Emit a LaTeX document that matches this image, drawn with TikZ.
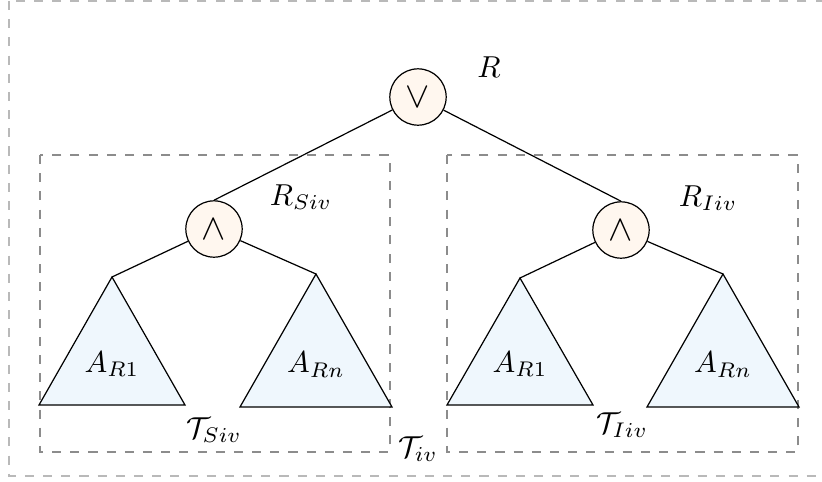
\documentclass[tikz,border=0pt]{standalone}
\usepackage{amsmath}
\usepackage{xcolor}
\usepackage{tikz}
\usetikzlibrary{positioning}
\definecolor{opFill}{RGB}{255,247,239}
\definecolor{subFill}{RGB}{239,247,253}
\definecolor{boxLine}{RGB}{140,140,140}
\definecolor{outLine}{RGB}{185,185,185}
\tikzset{
  op/.style={circle, draw, fill=opFill, minimum size=18.6pt, inner sep=0pt,
             font=\large},
  subtree/.style={draw, fill=subFill, line join=miter},
  region/.style={draw=boxLine, dashed},
  outer/.style={draw=outLine, dashed, line width=0.6pt},
  lbl/.style={inner sep=0pt},
}
\newcommand{\SubTree}[5]{%
  \coordinate (#1) at (#2);
  \draw[subtree] (#1) -- ++(-#3,#4) -- ++({2*#3},0) -- cycle;
  \path (#1) ++(0,{#4*0.68}) node[lbl] (#1-lbl) {#5};}

\begin{document}
\begin{tikzpicture}[x=0.33pt, y=-0.33pt]
  \useasboundingbox (0,0) rectangle (822,481);
  \draw[outer] (9,1) rectangle (860,476);

  % the two sub-regions
  \draw[region] (40,155) rectangle (390,452);
  \draw[region] (447,155) rectangle (798,452);

  % operators
  \node[op] (root) at (418,97) {$\vee$};
  \node[op] (andS) at (214,229) {$\wedge$};
  \node[op] (andI) at (621,230) {$\wedge$};

  % sub-trees
  \SubTree{sA1}{112,277}{73}{128}{$A_{R1}$}
  \SubTree{sAn}{316,274}{76}{133}{$A_{Rn}$}
  \SubTree{iA1}{520,278}{73}{127}{$A_{R1}$}
  \SubTree{iAn}{723,274}{76}{133}{$A_{Rn}$}

  \draw (root) -- (andS.north);
  \draw (root) -- (andI.north);
  \draw (andS) -- (sA1);
  \draw (andS) -- (sAn);
  \draw (andI) -- (iA1);
  \draw (andI) -- (iAn);

  % labels
  \node[lbl] (lR) at (489,67) {$R$};
  \node[lbl] (lRS) at (301,197) {$R_{Siv}$};
  \node[lbl] (lRI) at (708,198) {$R_{Iiv}$};
  \node[lbl] (lTS) at (214,430) {$\mathcal{T}_{Siv}$};
  \node[lbl] (lTI) at (622,425) {$\mathcal{T}_{Iiv}$};
  \node[lbl] (lT) at (418,449) {$\mathcal{T}_{iv}$};
\end{tikzpicture}
\end{document}
